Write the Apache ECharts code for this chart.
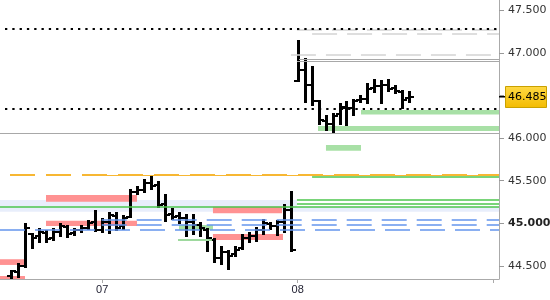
<!DOCTYPE html>
<html><head><meta charset="utf-8">
<script src="https://cdn.jsdelivr.net/npm/echarts@6/dist/echarts.min.js"></script>
<style>html,body{margin:0;padding:0;background:#fff}#c{width:550px;height:300px}</style>
</head><body><div id="c"></div>
<script>
// ---- data ----
const barStart = -13; // bar index of first bar (index 0 = start of day 07)
const opens  = [44.382,44.429,44.499,44.874,44.851,44.886,44.828,44.898,44.957,44.886,44.921,44.945,45.015,
                44.921,45.015,45.086,44.968,45.074,45.368,45.391,45.473,45.450,45.227,45.109,45.086,45.062,45.015,44.980,44.921,44.804,44.593,44.663,44.640,44.710,44.828,44.851,44.921,44.992,44.968,45.015,45.156,
                46.670,46.799,46.623,46.436,46.201,46.166,46.283,46.353,46.353,46.447,46.459,46.588,46.612,46.623,46.588,46.541,46.471];
const highs  = [44.452,44.534,45.004,44.886,44.945,44.921,44.945,45.004,44.980,44.945,44.980,45.039,45.156,
                45.062,45.133,45.133,45.098,45.403,45.438,45.520,45.555,45.497,45.344,45.180,45.133,45.109,45.109,45.015,44.945,44.828,44.734,44.687,44.734,44.874,44.898,44.957,45.051,45.015,45.039,45.227,45.379,
                47.151,46.940,46.846,46.447,46.271,46.295,46.412,46.436,46.459,46.506,46.647,46.694,46.682,46.694,46.623,46.565,46.553];
const lows   = [44.346,44.358,44.476,44.699,44.769,44.769,44.792,44.839,44.828,44.851,44.886,44.921,44.898,
                44.886,44.874,44.910,44.921,45.062,45.332,45.356,45.391,45.180,45.015,45.039,44.992,44.839,44.863,44.839,44.663,44.534,44.511,44.452,44.605,44.687,44.769,44.781,44.863,44.921,44.851,44.886,44.663,
                46.659,46.412,46.377,46.154,46.083,46.060,46.154,46.142,46.260,46.412,46.400,46.529,46.400,46.541,46.518,46.342,46.412];
const closes = [44.440,44.499,44.945,44.828,44.898,44.816,44.898,44.968,44.874,44.921,44.945,45.004,44.921,
                45.015,45.098,44.945,45.062,45.368,45.391,45.473,45.438,45.215,45.098,45.074,45.062,45.015,44.980,44.945,44.828,44.593,44.663,44.616,44.687,44.828,44.851,44.921,45.004,44.968,45.015,45.156,44.687,
                46.799,46.623,46.436,46.213,46.166,46.260,46.365,46.353,46.436,46.459,46.576,46.612,46.623,46.576,46.553,46.447,46.485];
const dayTicks = [0, 28, 56];
const dayLabelValues = [0, 28];
const dayNames = ['07', '08'];
const priceTicks = [44.5, 45, 45.5, 46, 46.5, 47, 47.5];
const priceLabelValues = [44.5, 45, 45.5, 46, 47, 47.5];
const lastPrice = 46.485;
const xMin = -14.64, xMax = 56.85;
const yMin = 44.346, yMax = 47.621;

// levels: [price, fromBar, toBar]
const blackDotted  = [[47.281, xMin, xMax], [46.342, xMin, xMax]];
const greySolid    = [[46.056, xMin, xMax], [46.925, 28.2, xMax], [46.897, 27.9, xMax]];
const greyDashed   = [[47.230, 30.07, xMax], [46.975, 27.04, xMax], [47.268, 27.9, xMax]];
const orangeDashed = [[45.567, xMin, xMax]];
const orangeSolid  = [[45.561, 0, xMax]];
const greenLines   = [[45.549, 30.07, xMax], [45.282, 27.9, xMax], [45.227, 27.9, xMax], [45.197, xMin, xMax]];
const blueDashed   = [[45.047, -0.07, xMax], [44.988, -0.07, xMax], [44.929, xMin, xMax]];
const paleGreenLines = [[44.804, 10.86, 15.73]];
// zones: [fromBar, toBar, low, high]
const redZones   = [[-8.05, 4.99, 45.254, 45.332], [-8.05, 4.99, 44.968, 45.031], [xMin, -11.06, 44.511, 44.578],
                    [xMin, -11.06, 44.346, 44.381], [15.87, 25.76, 45.117, 45.195], [15.87, 25.9, 44.804, 44.874]];
const greenZones = [[37.08, xMax, 46.277, 46.330], [30.92, xMax, 46.083, 46.142], [32.06, 37.08, 45.852, 45.919], [11.0, 15.87, 44.921, 44.980]];
const blueZones  = [[xMin, 27.9, 45.136, 45.273], [27.9, xMax, 45.136, 45.195]];

// ---- chart ----
const chart = echarts.init(document.getElementById('c'), null, {renderer: 'canvas'});
const ohlc = opens.map((o, k) => [barStart + k, o, highs[k], lows[k], closes[k]]);

function lineItems(arr, style) {
  return arr.map(([p, a, b]) => [{coord: [a, p], lineStyle: style}, {coord: [b, p]}]);
}
function zoneItems(arr, color) {
  return arr.map(([a, b, lo, hi]) => [{coord: [a, hi], itemStyle: {color: color}}, {coord: [b, lo]}]);
}
function renderOHLC(params, api) {
  const x = api.value(0);
  const p = api.coord([x, api.value(1)]);
  const px = Math.round(p[0]);
  const oy = p[1];
  const hy = api.coord([x, api.value(2)])[1];
  const ly = api.coord([x, api.value(3)])[1];
  const cy = api.coord([x, api.value(4)])[1];
  return {type: 'group', children: [
    {type: 'rect', shape: {x: px - 1, y: Math.round(hy), width: 3, height: Math.max(Math.round(ly - hy), 1)}, style: {fill: '#000'}},
    {type: 'rect', shape: {x: px - 4, y: Math.round(oy) - 1, width: 3, height: 2}, style: {fill: '#000'}},
    {type: 'rect', shape: {x: px + 2, y: Math.round(cy) - 1, width: 3, height: 2}, style: {fill: '#000'}}
  ]};
}

const mlBase = {symbol: ['none', 'none'], label: {show: false}, silent: true, animation: false, emphasis: {disabled: true}};

chart.setOption({
  animation: false,
  backgroundColor: '#fff',
  grid: {left: 0, right: 51, top: 0, bottom: 21, containLabel: false, outerBoundsMode: 'none'},
  xAxis: {
    type: 'value', min: xMin, max: xMax,
    splitLine: {show: false, lineStyle: {opacity: 0, width: 0, color: 'rgba(0,0,0,0)'}},
    minorSplitLine: {show: false},
    axisLine: {show: true, onZero: false, lineStyle: {color: '#aaa', width: 1}},
    axisTick: {show: true, customValues: dayTicks, length: 4, lineStyle: {color: '#aaa'}},
    axisLabel: {customValues: dayLabelValues, formatter: v => dayNames[dayLabelValues.indexOf(Math.round(v))] || '',
      color: '#223', fontFamily: 'Liberation Sans', fontSize: 11, margin: 5}
  },
  yAxis: {
    type: 'value', position: 'right', min: yMin, max: yMax, scale: true,
    splitLine: {show: false},
    axisLine: {show: true, onZero: false, lineStyle: {color: '#aaa', width: 1}},
    axisTick: {show: true, customValues: priceTicks, length: 5, lineStyle: {color: '#999'}},
    axisLabel: {customValues: priceLabelValues, margin: 9, color: '#333', fontFamily: 'DejaVu Sans', fontSize: 11,
      formatter: v => Math.abs(v - 45) < 1e-6 ? '{b|' + v.toFixed(3) + '}' : v.toFixed(3),
      rich: {b: {fontWeight: 'bold', color: '#222', fontFamily: 'DejaVu Sans', fontSize: 11}}}
  },
  series: [
    {type: 'line', data: [], z: 1, silent: true,
     markArea: {silent: true, animation: false, label: {show: false}, emphasis: {disabled: true},
       data: [].concat(zoneItems(blueZones, '#e8eefb'), zoneItems(redZones, '#ff9292'), zoneItems(greenZones, '#a8e0a6'))}},
    {type: 'line', data: [], z: 2, silent: true,
     markLine: Object.assign({}, mlBase, {data: [].concat(
       lineItems(greySolid, {color: '#a8a8a8', width: 1, type: 'solid'}),
       lineItems(greyDashed, {color: '#d4d4d4', width: 1.5, type: [25, 10]}),
       lineItems(blackDotted, {color: '#000', width: 2, type: [2.3, 5], dashOffset: 2.3}),
       lineItems(orangeDashed, {color: '#f7b733', width: 2, type: [25, 11], dashOffset: 26}),
       lineItems(orangeSolid, {color: '#f7b733', width: 1, type: 'solid'}),
       lineItems(greenLines, {color: '#4cc64c', width: 1.5, type: 'solid'}),
       lineItems(blueDashed, {color: '#6495ed', width: 1.5, type: [25, 10]}),
       lineItems(paleGreenLines, {color: '#9ed99e', width: 2, type: 'solid'})
     )})},
    {type: 'custom', z: 3, data: ohlc, renderItem: renderOHLC, encode: {x: 0, y: [1, 2, 3, 4]}, clip: true, silent: true}
  ]
});

const py = chart.convertToPixel({yAxisIndex: 0}, lastPrice);
const axisX = chart.convertToPixel({xAxisIndex: 0}, xMax);
chart.setOption({graphic: [
  {type: 'line', shape: {x1: axisX, y1: py, x2: axisX + 6, y2: py}, style: {stroke: '#000', lineWidth: 1.5}, z: 10},
  {type: 'rect', shape: {x: axisX + 6.5, y: Math.round(py) - 10.5, width: 41, height: 21},
   style: {fill: new echarts.graphic.LinearGradient(0, 0, 0, 1, [{offset: 0, color: '#ffd945'}, {offset: 1, color: '#f3bb00'}]), stroke: '#c9a100', lineWidth: 1}, z: 10},
  {type: 'text', x: axisX + 9, y: Math.round(py) + 0.5, style: {text: lastPrice.toFixed(3), font: '11px "DejaVu Sans"', fill: '#000', verticalAlign: 'middle', align: 'left'}, z: 11}
]});
</script>
</body></html>
